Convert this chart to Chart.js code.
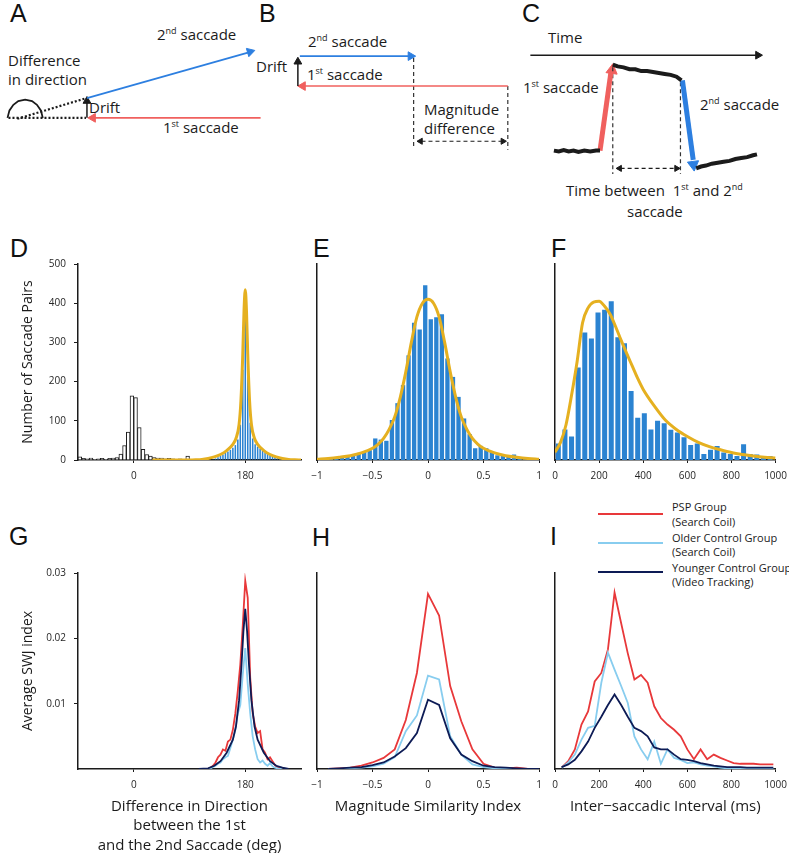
<!DOCTYPE html>
<html>
<head>
<meta charset="utf-8">
<title>Saccade pairs</title>
<script src="https://cdn.jsdelivr.net/npm/chart.js@4.4.1/dist/chart.umd.min.js"></script>
<style>
  html, body { margin: 0; padding: 0; background: #fff; }
  body { position: relative; width: 789px; height: 853px; overflow: hidden; font-family: "Open Sans", "DejaVu Sans", sans-serif; color: #1b1b1b; }
  canvas { position: absolute; }
  .lbl { position: absolute; white-space: nowrap; font-size: 15px; line-height: 18px; }
  .lbl sup { font-size: 9px; vertical-align: 6px; line-height: 0; }
  .panel { position: absolute; font-family: "Liberation Sans", Arial, sans-serif; font-size: 25px; line-height: 25px; color: #111; }
  .legend { position: absolute; white-space: nowrap; font-size: 11px; line-height: 14px; }
  .swatch { position: absolute; height: 0; width: 65px; border-top: 2px solid; }
</style>
</head>
<body>
<div class="panel" style="left:10px;top:1px">A</div>
<div class="panel" style="left:259px;top:1px">B</div>
<div class="panel" style="left:522px;top:1px">C</div>
<div class="panel" style="left:10px;top:236px">D</div>
<div class="panel" style="left:313px;top:236px">E</div>
<div class="panel" style="left:551px;top:236px">F</div>
<div class="panel" style="left:9px;top:524px">G</div>
<div class="panel" style="left:312px;top:525px">H</div>
<div class="panel" style="left:550px;top:524px">I</div>

<div class="lbl" style="left:157px;top:25px">2<sup>nd</sup> saccade</div>
<div class="lbl" style="left:8px;top:51px">Difference</div>
<div class="lbl" style="left:8px;top:70px">in direction</div>
<div class="lbl" style="left:89px;top:98px">Drift</div>
<div class="lbl" style="left:163px;top:118px">1<sup>st</sup> saccade</div>

<div class="lbl" style="left:308px;top:32px">2<sup>nd</sup> saccade</div>
<div class="lbl" style="left:307px;top:65px">1<sup>st</sup> saccade</div>
<div class="lbl" style="left:256px;top:57px">Drift</div>
<div class="lbl" style="left:424px;top:100px">Magnitude</div>
<div class="lbl" style="left:424px;top:119px">difference</div>

<div class="lbl" style="left:548px;top:28px">Time</div>
<div class="lbl" style="left:523px;top:78px">1<sup>st</sup> saccade</div>
<div class="lbl" style="left:700px;top:95px">2<sup>nd</sup> saccade</div>
<div class="lbl" style="left:566px;top:181px">Time between&nbsp; 1<sup>st</sup> and 2<sup>nd</sup></div>
<div class="lbl" style="left:627px;top:202px">saccade</div>

<div class="swatch" style="left:598px;top:513px;border-color:#e8383a"></div>
<div class="legend" style="left:672px;top:500px">PSP Group</div>
<div class="legend" style="left:672px;top:515px">(Search Coil)</div>
<div class="swatch" style="left:598px;top:542px;border-color:#88cdef"></div>
<div class="legend" style="left:672px;top:531px">Older Control Group</div>
<div class="legend" style="left:672px;top:545px">(Search Coil)</div>
<div class="swatch" style="left:598px;top:571px;border-color:#0d1b55"></div>
<div class="legend" style="left:672px;top:561px">Younger Control Group</div>
<div class="legend" style="left:672px;top:575px">(Video Tracking)</div>

<script>
// D: difference in direction histogram (deg)
const dirOppCenters = [-87, -81, -75, -69, -63, -57, -51, -45, -39, -33, -27, -21, -15, -9, -3, 3, 9, 15, 21, 27, 33, 39, 45, 51, 57, 63, 69, 75, 81, 87, 93, 99];
const dirOppCounts = [8, 4, 3, 5, 2, 3, 4, 2, 4, 5, 6, 15, 37, 71, 164, 159, 83, 27, 14, 10, 6, 5, 5, 3, 4, 3, 2, 3, 2, 10, 2, 0];
const dirSwjCenters = [124, 128, 132, 136, 140, 144, 148, 152, 156, 160, 164, 168, 172, 176, 180, 184, 188, 192, 196, 200, 204, 208, 212, 216, 220, 224, 228, 232, 236, 240, 244, 248, 252, 256, 260, 264, 268];
const dirSwjCounts = [1, 2, 4, 7, 11, 14, 18, 22, 26, 31, 38, 52, 90, 230, 415, 240, 95, 55, 40, 34, 28, 23, 19, 16, 12, 10, 8, 6, 5, 4, 3, 2, 2, 1, 1, 1, 1];
const dirFitX = [30, 60, 90, 100, 110, 120, 130, 140, 150, 160, 165, 170, 173, 176, 178, 180, 182, 184, 187, 190, 195, 200, 210, 220, 230, 240, 250, 260, 270];
const dirFitY = [0, 0, 0, 0.5, 1.5, 4, 8, 14, 24, 40, 55, 90, 150, 270, 380, 434, 380, 270, 150, 90, 55, 40, 24, 14, 8, 4, 1.5, 0.5, 0];
const dirTicks = [0, 180];
const countTicks = [0, 100, 200, 300, 400, 500];

// E: magnitude similarity histogram
const magCenters = [-0.975, -0.925, -0.875, -0.825, -0.775, -0.725, -0.675, -0.625, -0.575, -0.525, -0.475, -0.425, -0.375, -0.325, -0.275, -0.225, -0.175, -0.125, -0.075, -0.025, 0.025, 0.075, 0.125, 0.175, 0.225, 0.275, 0.325, 0.375, 0.425, 0.475, 0.525, 0.575, 0.625, 0.675, 0.725, 0.775, 0.825, 0.875, 0.925, 0.975];
const magCounts = [2, 3, 3, 5, 7, 9, 13, 18, 22, 25, 55, 52, 49, 102, 145, 191, 267, 350, 333, 446, 359, 364, 372, 259, 212, 161, 106, 66, 30, 36, 30, 21, 12, 12, 9, 14, 4, 2, 1, 1];
const magFitX = [-1, -0.9, -0.8, -0.7, -0.6, -0.5, -0.45, -0.4, -0.35, -0.3, -0.25, -0.2, -0.15, -0.1, -0.05, 0, 0.05, 0.1, 0.15, 0.2, 0.25, 0.3, 0.35, 0.4, 0.45, 0.5, 0.6, 0.7, 0.8, 0.9, 1];
const magFitY = [2, 4, 7, 11, 18, 30, 40, 55, 78, 110, 160, 225, 300, 365, 400, 410, 400, 365, 300, 225, 160, 110, 78, 55, 40, 30, 18, 11, 7, 4, 2];
const magTicks = [-1, -0.5, 0, 0.5, 1];

// F: inter-saccadic interval histogram (ms)
const isiCenters = [15, 45, 75, 105, 135, 165, 195, 225, 255, 285, 315, 345, 375, 405, 435, 465, 495, 525, 555, 585, 615, 645, 675, 705, 735, 765, 795, 825, 855, 885, 915, 945, 975];
const isiCounts = [42, 78, 60, 236, 325, 310, 376, 383, 405, 313, 298, 176, 108, 119, 78, 100, 94, 77, 70, 58, 38, 42, 15, 26, 36, 19, 15, 10, 40, 15, 14, 6, 10];
const isiFitX = [0, 25, 50, 75, 100, 125, 150, 175, 200, 225, 250, 275, 300, 325, 350, 375, 400, 450, 500, 550, 600, 650, 700, 750, 800, 850, 900, 950, 1000];
const isiFitY = [20, 45, 90, 165, 250, 350, 388, 403, 405, 392, 372, 340, 305, 272, 240, 208, 180, 138, 102, 78, 60, 45, 34, 26, 19, 14, 10, 7, 5];
const isiTicks = [0, 200, 400, 600, 800, 1000];

// G: average SWJ index vs direction difference
const gX = [120, 124, 128, 132, 136, 140, 144, 148, 152, 156, 160, 164, 168, 172, 176, 180, 184, 188, 192, 196, 200, 204, 208, 212, 216, 220, 224, 228, 232, 236, 240];
const gPsp = [0, 0.0002, 0.0005, 0.001, 0.0018, 0.0022, 0.003, 0.0028, 0.0042, 0.0045, 0.006, 0.0085, 0.012, 0.016, 0.022, 0.0288, 0.0262, 0.014, 0.0085, 0.0065, 0.0055, 0.0058, 0.003, 0.0025, 0.0015, 0.0018, 0.0012, 0.0006, 0.0003, 0.0001, 0];
const gOld = [0, 0.0001, 0.0003, 0.0005, 0.0008, 0.001, 0.0015, 0.0018, 0.002, 0.0032, 0.0045, 0.006, 0.0085, 0.0098, 0.0145, 0.0185, 0.013, 0.0085, 0.005, 0.003, 0.0015, 0.001, 0.0013, 0.0008, 0.0005, 0.0009, 0.0004, 0.0002, 0.0001, 0, 0];
const gYoungX = [105, 120, 130, 140, 150, 160, 165, 170, 174, 177, 180, 183, 186, 190, 195, 200, 210, 220, 230, 240, 250];
const gYoung = [0, 0.0001, 0.0005, 0.0012, 0.0025, 0.0045, 0.0065, 0.0105, 0.016, 0.021, 0.0245, 0.021, 0.016, 0.0105, 0.0065, 0.0045, 0.0025, 0.0012, 0.0005, 0.0002, 0];
const swjTicks = [0.01, 0.02, 0.03];

// H: average SWJ index vs magnitude similarity
const hX = [-0.9, -0.8, -0.7, -0.6, -0.5, -0.4, -0.3, -0.2, -0.1, 0, 0.1, 0.2, 0.3, 0.4, 0.5, 0.6, 0.7, 0.8, 0.9, 1];
const hPsp = [0, 0.0001, 0.0002, 0.0005, 0.001, 0.0017, 0.003, 0.0075, 0.0147, 0.0268, 0.0235, 0.0127, 0.0073, 0.003, 0.0008, 0.0002, 0.0001, 0.0002, 0, 0];
const hOld = [0, 0, 0.0001, 0.0002, 0.0004, 0.0008, 0.0018, 0.0058, 0.0082, 0.0143, 0.0137, 0.005, 0.0022, 0.0007, 0.0003, 0.0001, 0, 0, 0, 0];
const hYoung = [0, 0.0001, 0.0002, 0.0003, 0.0006, 0.001, 0.0019, 0.0032, 0.0055, 0.0106, 0.0098, 0.0047, 0.0022, 0.0012, 0.0005, 0.0003, 0.0002, 0.0001, 0, 0];

// I: average SWJ index vs inter-saccadic interval
const iX = [30, 60, 90, 120, 150, 180, 210, 240, 270, 300, 330, 360, 390, 420, 450, 480, 510, 540, 570, 600, 630, 660, 690, 720, 750, 780, 810, 840, 870, 900, 930, 960, 990];
const iPsp = [0.0002, 0.0012, 0.003, 0.0068, 0.0088, 0.0134, 0.0147, 0.0183, 0.027, 0.0223, 0.0177, 0.0137, 0.0144, 0.0132, 0.0096, 0.0078, 0.0068, 0.006, 0.005, 0.003, 0.0015, 0.003, 0.0015, 0.0022, 0.0017, 0.0013, 0.0009, 0.0008, 0.0008, 0.0008, 0.0007, 0.0007, 0.0007];
const iOld = [0.0002, 0.001, 0.0022, 0.0045, 0.0063, 0.0066, 0.0132, 0.0178, 0.0152, 0.0127, 0.0101, 0.005, 0.003, 0.0015, 0.0042, 0.0008, 0.003, 0.0017, 0.0014, 0.0009, 0.001, 0.0007, 0.0005, 0.0004, 0.0002, 0.0001, 0, 0, 0, 0, 0, 0, 0];
const iYoung = [0.0003, 0.0007, 0.0014, 0.0027, 0.0042, 0.0063, 0.008, 0.0098, 0.0114, 0.0098, 0.008, 0.0063, 0.0058, 0.005, 0.0033, 0.003, 0.003, 0.0022, 0.0015, 0.0014, 0.0012, 0.0009, 0.0007, 0.0005, 0.0004, 0.0003, 0.0003, 0.0003, 0.0002, 0.0002, 0.0002, 0.0002, 0.0002];

// A-C schematic strokes (sketch coordinates)
const aFirst = [[258, 118], [88, 118]];
const aDrift = [[81, 118], [81, 101]];
const aSecond = [[81, 97], [246, 48]];
const aDotFlat = [[1, 118], [80, 118]];
const aDotSlant = [[10, 119], [80, 97]];
const aArc = [[0, 118], [2, 110], [6, 104], [11, 100], [18, 98.5], [25, 100], [30, 104], [34, 110], [36, 118]];
const bSecond = [[298, 52], [410, 52]];
const bFirst = [[510, 84], [302, 84]];
const bDrift = [[296, 84], [296, 59]];
const bDashA = [[414, 54], [414, 150]];
const bDashB = [[510, 84], [510, 152]];
const bSpan = [[422, 143], [504, 143]];
const cTime = [[533, 51], [764, 51]];
const cTrace1 = [[557, 153], [562, 154], [567, 152.5], [572, 154], [577, 153], [582, 154.5], [588, 153], [594, 154], [600, 153], [604, 153]];
const cRed = [[604, 153], [615, 70]];
const cTrace2 = [[617, 61], [622, 63], [628, 64], [634, 66], [640, 66], [646, 68], [652, 68], [658, 69], [664, 70], [670, 71], [676, 72], [682, 74], [687, 78]];
const cBlue = [[688, 78], [699, 163]];
const cTrace3 = [[702, 172], [707, 170], [712, 169], [718, 167], [724, 166], [730, 165], [736, 164], [742, 162], [748, 161], [754, 160], [760, 158], [764, 157]];
const cDashA = [[617, 64], [617, 178]];
const cDashB = [[686, 80], [686, 178]];
const cSpan = [[625, 172], [681, 172]];
const blackHeads = [[81, 100, 0], [296, 58, 0], [765, 51, 90]];
const dashHeads = [[421, 143, 270], [505, 143, 90], [624, 172, 270], [682, 172, 90]];
const redHeads = [[87, 118, 270], [301, 84, 270]];
const blueHeads = [[247.2, 47.4, 73.6], [411, 52, 90]];
const bigRedHead = [[616.2, 67, 7.7]];
const bigBlueHead = [[699.2, 168, 172.7]];

const INK = "#1b1b1b";
const RED = "#e8383a";
const SKY = "#88cdef";
const NAVY = "#0d1b55";
const BAR_BLUE = "#2b83d1";
const GOLD = "#e5b020";
const ARROW_RED = "#f0605e";
const ARROW_BLUE = "#2d7fe0";
const FONT = "'Open Sans', 'DejaVu Sans', sans-serif";

const frames = {
	d: { x: 0, y: 240, w: 316, h: 250, left: 78, top: 24, right: 15, bottom: 30 },
	e: { x: 303, y: 240, w: 251, h: 250, left: 14, top: 24, right: 15, bottom: 30 },
	f: { x: 541, y: 240, w: 253, h: 250, left: 14, top: 24, right: 16, bottom: 30 },
	g: { x: 0, y: 550, w: 316, h: 305, left: 78, top: 23, right: 15, bottom: 86 },
	h: { x: 303, y: 550, w: 251, h: 305, left: 14, top: 23, right: 15, bottom: 86 },
	i: { x: 541, y: 550, w: 253, h: 305, left: 14, top: 23, right: 16, bottom: 86 }
};

Chart.defaults.font.family = FONT;
Chart.defaults.color = INK;

function pairs(xs, ys) {
	return xs.map((x, i) => ({ x, y: ys[i] }));
}

function fmtTick(value) {
	return value < 0 ? `\u2212${Math.abs(value)}` : String(value);
}

function placeCanvas(frame) {
	const canvas = document.createElement("canvas");
	canvas.width = frame.w;
	canvas.height = frame.h;
	canvas.style.left = `${frame.x}px`;
	canvas.style.top = `${frame.y}px`;
	document.body.appendChild(canvas);
	return canvas;
}

function xAxis(frame, min, max, ticks, title) {
	return {
		type: "linear",
		min,
		max,
		offset: false,
		z: 1,
		afterFit: (scale) => { scale.height = frame.bottom; },
		afterBuildTicks: (scale) => { scale.ticks = ticks.map((value) => ({ value })); },
		grid: { display: true, offset: false, drawOnChartArea: false, drawTicks: true, tickLength: 3, color: INK },
		border: { display: true, color: INK, width: 1.5 },
		ticks: { font: { size: 10 }, color: "#262626", padding: 7, maxRotation: 0, autoSkip: false, callback: fmtTick },
		title: title
			? { display: true, text: title.text, font: { size: 15, lineHeight: 1.3 }, color: INK, padding: { top: 0, bottom: title.pad } }
			: { display: false }
	};
}

function yAxis(frame, max, ticks, title) {
	return {
		type: "linear",
		min: 0,
		max,
		afterFit: (scale) => { scale.width = frame.left; },
		afterBuildTicks: (scale) => { scale.ticks = (ticks || []).map((value) => ({ value })); },
		grid: { display: !!ticks, drawOnChartArea: false, drawTicks: true, tickLength: 4, color: INK },
		border: { display: true, color: INK, width: 1.5 },
		ticks: { display: !!ticks, font: { size: 10 }, color: "#262626", padding: 8, callback: fmtTick },
		title: title
			? { display: true, text: title, font: { size: 14 }, color: INK, padding: { top: 20, bottom: 0 } }
			: { display: false }
	};
}

function buildPanel(frame, type, datasets, scales) {
	return new Chart(placeCanvas(frame), {
		type,
		data: { datasets },
		options: {
			responsive: false,
			animation: false,
			devicePixelRatio: 1,
			events: [],
			layout: { padding: { top: frame.top, right: frame.right, left: 0, bottom: 0 } },
			plugins: { legend: { display: false }, tooltip: { enabled: false } },
			scales
		}
	});
}

function fitLine(xs, ys) {
	return {
		type: "line",
		data: pairs(xs, ys),
		borderColor: GOLD,
		borderWidth: 3,
		pointRadius: 0,
		cubicInterpolationMode: "monotone",
		order: 0
	};
}

function bars(xs, ys, share) {
	return {
		type: "bar",
		data: pairs(xs, ys),
		backgroundColor: BAR_BLUE,
		barPercentage: share,
		categoryPercentage: 1,
		grouped: false,
		order: 1
	};
}

function groupLine(xs, ys, color, order) {
	return {
		type: "line",
		data: pairs(xs, ys),
		borderColor: color,
		borderWidth: 1.8,
		pointRadius: 0,
		tension: 0,
		order
	};
}

// Histograms
buildPanel(frames.d, "bar", [
	fitLine(dirFitX, dirFitY),
	bars(dirSwjCenters, dirSwjCounts, 0.62),
	{
		type: "bar",
		xAxisID: "x2",
		data: pairs(dirOppCenters, dirOppCounts),
		backgroundColor: "#ffffff",
		borderColor: INK,
		borderWidth: 1,
		barPercentage: 1,
		categoryPercentage: 1,
		grouped: false,
		order: 2
	}
], {
	x: xAxis(frames.d, -90, 270, dirTicks),
	x2: { type: "linear", display: false, min: -90, max: 270, offset: false },
	y: yAxis(frames.d, 500, countTicks, "Number of Saccade Pairs")
});

buildPanel(frames.e, "bar", [fitLine(magFitX, magFitY), bars(magCenters, magCounts, 0.78)], {
	x: xAxis(frames.e, -1, 1, magTicks),
	y: yAxis(frames.e, 500)
});

buildPanel(frames.f, "bar", [fitLine(isiFitX, isiFitY), bars(isiCenters, isiCounts, 0.76)], {
	x: xAxis(frames.f, 0, 1000, isiTicks),
	y: yAxis(frames.f, 500)
});

// Group averages
buildPanel(frames.g, "line", [
	groupLine(gYoungX, gYoung, NAVY, 0),
	groupLine(gX, gOld, SKY, 1),
	groupLine(gX, gPsp, RED, 2)
], {
	x: xAxis(frames.g, -90, 270, dirTicks, { text: ["Difference in Direction", "between the 1st", "and the 2nd Saccade (deg)"], pad: 0 }),
	y: yAxis(frames.g, 0.03, swjTicks, "Average SWJ index")
});

buildPanel(frames.h, "line", [
	groupLine(hX, hYoung, NAVY, 0),
	groupLine(hX, hOld, SKY, 1),
	groupLine(hX, hPsp, RED, 2)
], {
	x: xAxis(frames.h, -1, 1, magTicks, { text: "Magnitude Similarity Index", pad: 39 }),
	y: yAxis(frames.h, 0.03)
});

buildPanel(frames.i, "line", [
	groupLine(iX, iYoung, NAVY, 0),
	groupLine(iX, iOld, SKY, 1),
	groupLine(iX, iPsp, RED, 2)
], {
	x: xAxis(frames.i, 0, 1000, isiTicks, { text: "Inter\u2212saccadic Interval (ms)", pad: 39 }),
	y: yAxis(frames.i, 0.03)
});

// Schematics A-C
function stroke(points, color, width, dash) {
	return {
		data: points.map(([x, y]) => ({ x, y })),
		showLine: true,
		borderColor: color,
		borderWidth: width,
		borderDash: dash || [],
		pointRadius: 0,
		clip: false
	};
}

function heads(points, color, radius) {
	return {
		data: points.map(([x, y]) => ({ x, y })),
		showLine: false,
		pointStyle: "triangle",
		rotation: points.map((p) => p[2]),
		pointRadius: radius,
		backgroundColor: color,
		borderColor: color,
		borderWidth: 1,
		clip: false
	};
}

new Chart(placeCanvas({ x: 0, y: 0, w: 789, h: 232 }), {
	type: "scatter",
	data: {
		datasets: [
			stroke(aFirst, ARROW_RED, 1.6),
			stroke(aDrift, INK, 1.5),
			stroke(aSecond, ARROW_BLUE, 1.8),
			stroke(aDotFlat, INK, 2.2, [2, 2]),
			stroke(aDotSlant, INK, 2.2, [2, 2]),
			stroke(aArc, INK, 1.8),
			stroke(bSecond, ARROW_BLUE, 1.6),
			stroke(bFirst, ARROW_RED, 1.6),
			stroke(bDrift, INK, 1.5),
			stroke(bDashA, "#333", 1.2, [4, 3]),
			stroke(bDashB, "#333", 1.2, [4, 3]),
			stroke(bSpan, INK, 1.2, [4, 3]),
			stroke(cTime, INK, 1.6),
			stroke(cTrace1, INK, 4),
			stroke(cRed, ARROW_RED, 5),
			stroke(cTrace2, INK, 4),
			stroke(cBlue, ARROW_BLUE, 5),
			stroke(cTrace3, INK, 4),
			stroke(cDashA, "#333", 1.2, [4, 3]),
			stroke(cDashB, "#333", 1.2, [4, 3]),
			stroke(cSpan, INK, 1.2, [4, 3]),
			heads(blackHeads, INK, 4.5),
			heads(dashHeads, INK, 3.5),
			heads(redHeads, ARROW_RED, 5),
			heads(blueHeads, ARROW_BLUE, 5),
			heads(bigRedHead, ARROW_RED, 6.5),
			heads(bigBlueHead, ARROW_BLUE, 6.5)
		]
	},
	options: {
		responsive: false,
		animation: false,
		devicePixelRatio: 1,
		events: [],
		layout: { padding: 0 },
		plugins: { legend: { display: false }, tooltip: { enabled: false } },
		scales: {
			x: { type: "linear", min: 0, max: 789, display: false },
			y: { type: "linear", min: 0, max: 232, reverse: true, display: false }
		}
	}
});
</script>
</body>
</html>
